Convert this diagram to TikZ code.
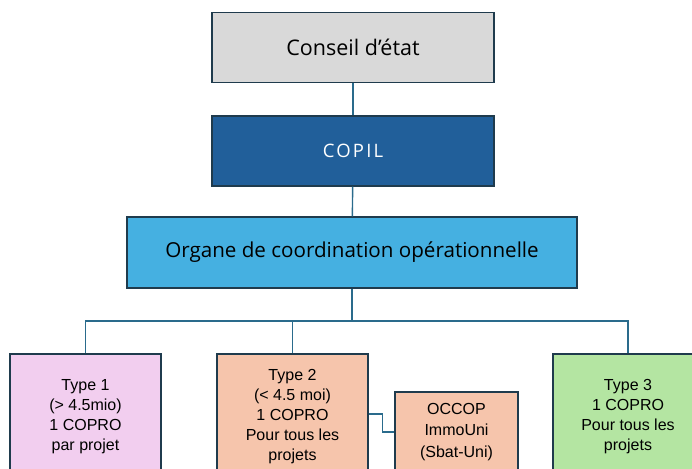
\documentclass[tikz,border=0pt]{standalone}
\usepackage{fontspec}
\setmainfont{Liberation Sans}
\newfontfamily\bigfont{Open Sans}
\usetikzlibrary{calc}
\definecolor{bordc}{HTML}{1F3B4D}
\definecolor{linec}{HTML}{2A6B8C}
\definecolor{grayf}{HTML}{D9D9D9}
\definecolor{copilf}{HTML}{215F9A}
\definecolor{organf}{HTML}{45B0E1}
\definecolor{pinkf}{HTML}{F2CEEF}
\definecolor{peachf}{HTML}{F6C5AC}
\definecolor{greenf}{HTML}{B4E5A2}
\tikzset{
  boxb/.style={draw=bordc, line width=1.4pt, inner sep=0pt, align=center},
  topbox/.style={boxb, minimum width=282pt, minimum height=70pt, font=\bigfont\fontsize{21.5}{25}\selectfont},
  smallbox/.style={boxb, minimum width=151pt, minimum height=126pt, font=\fontsize{16}{20}\selectfont},
  conn/.style={draw=linec, line width=1.4pt}
}
\begin{document}
\begin{tikzpicture}[x=1pt,y=-1pt]
\useasboundingbox (0,0) rectangle (692,468);
\clip (0,0) rectangle (692,468);
\node[topbox, fill=grayf] (ce) at (353,47.5) {Conseil d’état};
\node[topbox, fill=copilf, text=white, font=\bigfont\fontsize{18.5}{22}\selectfont\addfontfeature{LetterSpace=12}] (copil) at (353,151) {COPIL};
\node[topbox, fill=organf, minimum width=450pt, minimum height=71pt, font=\bigfont\fontsize{20.6}{24}\selectfont] (org) at (352,252.5) {Organe de coordination opérationnelle};
\node[smallbox, fill=pinkf] (t1) at (85.5,417) {Type 1\\(> 4.5mio)\\1 COPRO\\par projet};
\node[smallbox, fill=peachf] (t2) at (292.5,417) {Type 2\\(< 4.5 moi)\\1 COPRO\\Pour tous les\\projets};
\node[smallbox, fill=greenf, minimum width=150pt] (t3) at (628,417) {Type 3\\1 COPRO\\Pour tous les\\projets};
\node[boxb, fill=peachf, minimum width=123pt, minimum height=80pt, font=\fontsize{16}{21.5}\selectfont] (occ) at (456.5,432) {OCCOP\\ImmoUni\\(Sbat-Uni)};
\coordinate (bus) at (352,321);
\draw[conn] (ce) -- (copil);
\draw[conn] (copil) -- (org);
\draw[conn] (org) -- (bus);
\draw[conn] (t1.north) |- (bus) -| (t3.north);
\draw[conn] (t2.north) -- (t2.north |- bus);
\draw[conn] ([yshift=3pt]t2.east) -- ++(14,0) |- (occ.west);
\end{tikzpicture}
\end{document}
